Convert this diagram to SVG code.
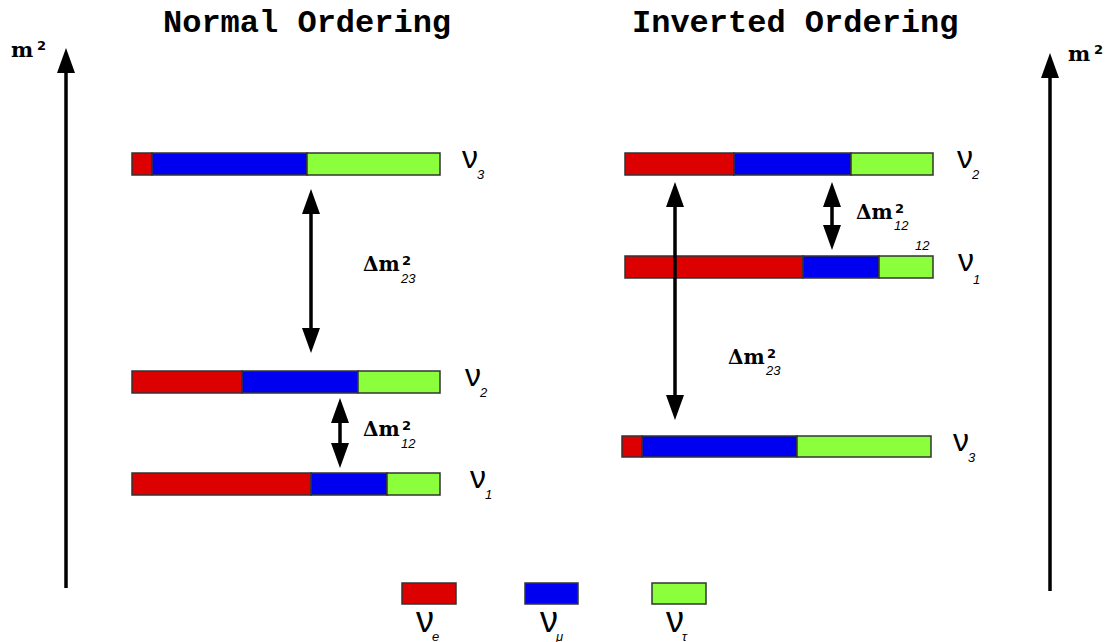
<svg xmlns="http://www.w3.org/2000/svg" width="1107" height="642" viewBox="0 0 1107 642">
<style>
.title{font-family:"Liberation Mono","Courier New",monospace;font-weight:bold;font-size:32px;fill:#000}
.nu{font-family:"Liberation Sans",Arial,sans-serif;font-size:32px;fill:#000}
.nul{font-family:"Liberation Sans",Arial,sans-serif;font-size:36px;fill:#000}
.sub{font-family:"Liberation Sans",Arial,sans-serif;font-style:italic;font-size:13px;fill:#000}
.dm{font-family:"DejaVu Serif",serif;font-weight:bold;font-size:20px;fill:#000}
.sup{font-family:"DejaVu Sans",sans-serif;font-weight:bold;font-size:13px;fill:#000}
.ax{font-family:"DejaVu Serif",serif;font-weight:bold;font-size:21px;fill:#000}
.r{fill:#dd0000;stroke:#333;stroke-width:1.5}
.b{fill:#0000f0;stroke:#333;stroke-width:1.5}
.g{fill:#8cff3c;stroke:#333;stroke-width:1.5}
.arr{stroke:#000;stroke-width:3.5;fill:none;marker-end:url(#ah)}
.darr{stroke:#000;stroke-width:3.5;fill:none;marker-end:url(#ah);marker-start:url(#ah)}
</style>
<defs>
<marker id="ah" viewBox="0 0 25 18" markerWidth="25" markerHeight="18" refX="15" refY="9" markerUnits="userSpaceOnUse" orient="auto-start-reverse">
<path d="M0,0 L25,9 L0,18 z" fill="#000"/>
</marker>
</defs>
<rect width="1107" height="642" fill="#fff"/>

<g id="titles">
<text class="title" x="163" y="32">Normal Ordering</text>
<text class="title" x="632" y="32">Inverted Ordering</text>
</g>

<g id="axis-left">
<line class="arr" x1="66" y1="588" x2="66" y2="58"/>
<text class="ax" x="11" y="57">m</text><text class="sup" x="37" y="50">2</text>
</g>
<g id="axis-right">
<line class="arr" x1="1050" y1="591" x2="1050" y2="63"/>
<text class="ax" x="1068" y="61">m</text><text class="sup" x="1094" y="54">2</text>
</g>

<g id="normal-nu3">
<rect class="r" x="132" y="153" width="20" height="22"/>
<rect class="b" x="152" y="153" width="155" height="22"/>
<rect class="g" x="307" y="153" width="133" height="22"/>
<text class="nu" x="462" y="168">ν</text><text class="sub" x="477" y="179">3</text>
</g>
<g id="normal-nu2">
<rect class="r" x="132" y="371" width="110" height="22"/>
<rect class="b" x="242" y="371" width="116" height="22"/>
<rect class="g" x="358" y="371" width="82" height="22"/>
<text class="nu" x="465" y="386">ν</text><text class="sub" x="480" y="397">2</text>
</g>
<g id="normal-nu1">
<rect class="r" x="132" y="473" width="179" height="22"/>
<rect class="b" x="311" y="473" width="76" height="22"/>
<rect class="g" x="387" y="473" width="53" height="22"/>
<text class="nu" x="470" y="488">ν</text><text class="sub" x="485" y="499">1</text>
</g>

<g id="inverted-nu2">
<rect class="r" x="625" y="153" width="109" height="22"/>
<rect class="b" x="734" y="153" width="117" height="22"/>
<rect class="g" x="851" y="153" width="82" height="22"/>
<text class="nu" x="957" y="168">ν</text><text class="sub" x="972" y="179">2</text>
</g>
<g id="inverted-nu1">
<rect class="r" x="625" y="256" width="178" height="22"/>
<rect class="b" x="803" y="256" width="76" height="22"/>
<rect class="g" x="879" y="256" width="54" height="22"/>
<text class="nu" x="958" y="271">ν</text><text class="sub" x="973" y="284">1</text>
<text class="sub" x="915" y="250">12</text>
</g>
<g id="inverted-nu3">
<rect class="r" x="622" y="436" width="20" height="21"/>
<rect class="b" x="642" y="436" width="155" height="21"/>
<rect class="g" x="797" y="436" width="134" height="21"/>
<text class="nu" x="953" y="451">ν</text><text class="sub" x="968" y="462">3</text>
</g>

<g id="connectors">
<line class="darr" x1="311" y1="199" x2="311" y2="343"/>
<line class="darr" x1="340" y1="408" x2="340" y2="458"/>
<line class="darr" x1="832" y1="192" x2="832" y2="240"/>
<line class="darr" x1="675" y1="192" x2="675" y2="410"/>
</g>

<g id="labels">
<text class="dm" x="363" y="271">Δm</text><text class="sup" x="402" y="265">2</text><text class="sub" x="401" y="283">23</text>
<text class="dm" x="363" y="436">Δm</text><text class="sup" x="402" y="430">2</text><text class="sub" x="401" y="448">12</text>
<text class="dm" x="856" y="219">Δm</text><text class="sup" x="895" y="213">2</text><text class="sub" x="894" y="230">12</text>
<text class="dm" x="728" y="364">Δm</text><text class="sup" x="767" y="358">2</text><text class="sub" x="766" y="375">23</text>
</g>

<g id="legend">
<rect class="r" x="402" y="583" width="54" height="21"/>
<rect class="b" x="525" y="583" width="53" height="21"/>
<rect class="g" x="652" y="583" width="54" height="21"/>
<text class="nul" x="416" y="632">ν</text><text class="sub" x="432" y="641">e</text>
<text class="nul" x="540" y="632">ν</text><text class="sub" x="556" y="641">μ</text>
<text class="nul" x="666" y="632">ν</text><text class="sub" x="682" y="641">τ</text>
</g>
</svg>
